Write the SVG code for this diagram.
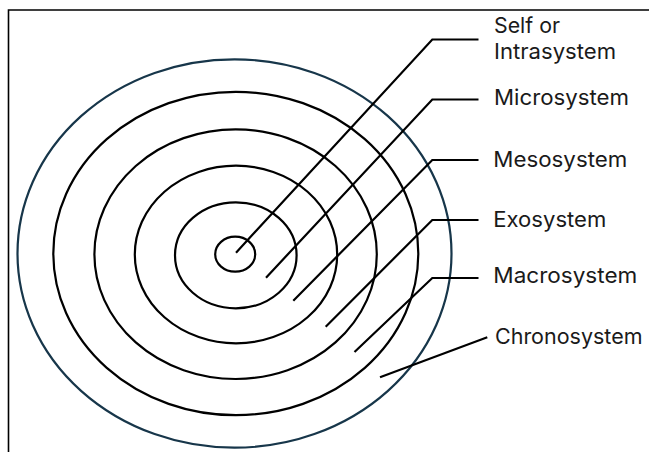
<svg xmlns="http://www.w3.org/2000/svg" width="649" height="452" viewBox="0 0 649 452">
<style>
.ring{fill:none;stroke:#000;stroke-width:2.2}
.outer{fill:none;stroke:#17364a;stroke-width:2.2}
.lead{fill:none;stroke:#000;stroke-width:2.2;stroke-linejoin:miter}
.frame{fill:none;stroke:#000;stroke-width:1.6}
.lbl{font-family:Inter,"Open Sans","Liberation Sans",sans-serif;font-size:21.5px;fill:#1a1a1a}
</style>
<rect width="649" height="452" fill="#fff"/>
<path class="frame" d="M8.5 452 V10 H649"/>
<g id="rings">
<g id="chronosystem-ring"><ellipse class="outer" cx="234.5" cy="253.5" rx="217" ry="194.2"/></g>
<g id="macrosystem-ring"><ellipse class="ring" cx="235.8" cy="253.5" rx="182.5" ry="161.7"/></g>
<g id="exosystem-ring"><ellipse class="ring" cx="235.6" cy="254.2" rx="141.2" ry="124.8"/></g>
<g id="mesosystem-ring"><ellipse class="ring" cx="236" cy="254.5" rx="101.2" ry="88.8"/></g>
<g id="microsystem-ring"><ellipse class="ring" cx="235.8" cy="255.3" rx="60.8" ry="53"/></g>
<g id="self-ring"><ellipse class="ring" cx="235.2" cy="254.2" rx="20" ry="17.5"/></g>
</g>
<g id="connectors">
<polyline class="lead" points="236,252.7 432.3,39.5 478.5,39.5"/>
<polyline class="lead" points="266,277.7 432.3,99.5 478.5,99.5"/>
<polyline class="lead" points="293.3,300.7 432.3,160 478.5,160"/>
<polyline class="lead" points="325.7,326.7 432.3,220 478.5,220"/>
<polyline class="lead" points="354.5,352 432.3,278 478.5,278"/>
<polyline class="lead" points="380,377.3 487.3,337.3"/>
</g>
<g id="label-self"><text class="lbl" x="494" y="33.3" textLength="66" lengthAdjust="spacingAndGlyphs">Self or</text><text class="lbl" x="494" y="59" textLength="122" lengthAdjust="spacingAndGlyphs">Intrasystem</text></g>
<g id="label-micro"><text class="lbl" x="494" y="104.5" textLength="135" lengthAdjust="spacingAndGlyphs">Microsystem</text></g>
<g id="label-meso"><text class="lbl" x="493.3" y="166.7" textLength="134" lengthAdjust="spacingAndGlyphs">Mesosystem</text></g>
<g id="label-exo"><text class="lbl" x="493.3" y="226.7" textLength="113" lengthAdjust="spacingAndGlyphs">Exosystem</text></g>
<g id="label-macro"><text class="lbl" x="493.3" y="283.3" textLength="144" lengthAdjust="spacingAndGlyphs">Macrosystem</text></g>
<g id="label-chrono"><text class="lbl" x="495" y="344.3" textLength="147.5" lengthAdjust="spacingAndGlyphs">Chronosystem</text></g>
</svg>
